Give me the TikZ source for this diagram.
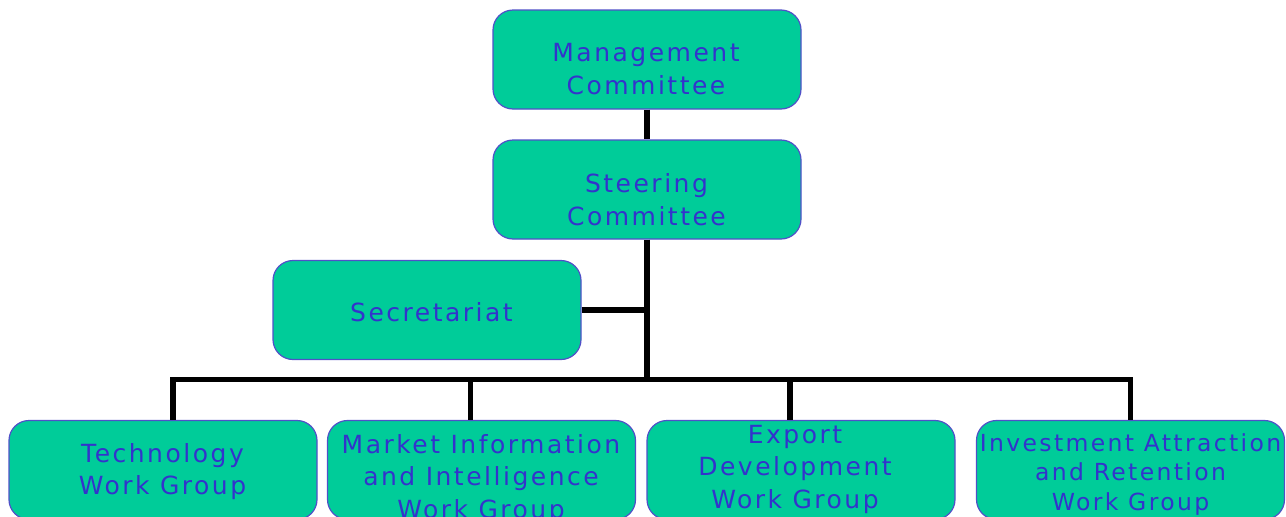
\documentclass[tikz,border=0pt]{standalone}
\usepackage{fontspec}
\newfontfamily\boxfont[LetterSpace=10]{DejaVu Sans}
\definecolor{boxfill}{HTML}{00CC99}
\definecolor{boxline}{HTML}{5050C8}
\definecolor{boxtext}{HTML}{3333CC}
\tikzset{
  orgbox/.style={draw=boxline, line width=1.2pt, fill=boxfill, rounded corners=20pt,
    minimum width=308pt, minimum height=99pt, inner sep=0pt},
  orgtext/.style={text=boxtext, align=center, inner sep=0pt,
    font=\boxfont\fontsize{25}{32.5}\selectfont},
  smalltext/.style={orgtext, font=\boxfont\fontsize{23.5}{29.7}\selectfont},
  conn/.style={line width=5.5pt, black},
}
\begin{document}
\begin{tikzpicture}[x=1pt, y=-1pt]
\useasboundingbox (0,0) rectangle (1286,517);
\clip (0,0) rectangle (1286,517);
% boxes
\node[orgbox] (mc) at (647,59.5) {};
\node[orgbox] (sc) at (647,189.5) {};
\node[orgbox] (sec) at (427,310) {};
\node[orgbox] (tech) at (163,470) {};
\node[orgbox] (mkt) at (481.5,470) {};
\node[orgbox] (exp) at (801,470) {};
\node[orgbox] (inv) at (1130.5,470) {};
% texts
\node[orgtext] (mct) at (646,69) {Management\\Committee};
\node[orgtext] (sct) at (646.5,199.5) {Steering\\Committee};
\node[orgtext] (sect) at (431.5,312.5) {Secretariat};
\node[orgtext] (techt) at (162.5,471.8) {Technology\\Work Group};
\node[orgtext] (mktt) at (481,479) {Market Information\\and Intelligence\\Work Group};
\node[orgtext] (expt) at (795,469) {Export\\Development\\Work Group};
\node[smalltext] (invt) at (1130.5,474.5) {Investment Attraction\\and Retention\\Work Group};
% connector points
\coordinate (bl) at (173,379.5);
\coordinate (m1) at (470.7,379.5);
\coordinate (e1) at (790,379.5);
\coordinate (br) at (1130.3,379.5);
% connectors
\draw[conn] (mc.south) -- (sc.north);
\draw[conn] (sc.south) -- (sc.south |- bl);
\draw[conn] (sec.east) -- (sec.east -| sc.south);
\draw[conn] (tech.north -| bl) -- (bl) -- (br) -- (inv.north -| br);
\draw[conn] (m1) -- (mkt.north -| m1);
\draw[conn] (e1) -- (exp.north -| e1);
\end{tikzpicture}
\end{document}
